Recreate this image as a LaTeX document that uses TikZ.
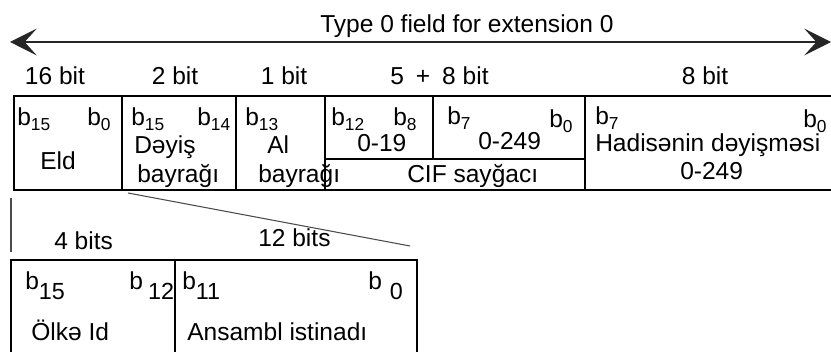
\documentclass[tikz,border=0pt]{standalone}
\usepackage{fontspec}
\setmainfont{Liberation Sans}
\usetikzlibrary{arrows.meta}
\newcommand{\bsmall}[1]{b\raisebox{-0.2em}{\fontsize{13}{13}\selectfont #1}}
\newcommand{\bbig}[2]{b\hspace{#1}\raisebox{-0.38em}{\fontsize{17.5}{17.5}\selectfont #2}}
\tikzset{
  txt/.style={inner sep=0pt, anchor=base west, font=\fontsize{18.4}{22}\selectfont},
  ctxt/.style={inner sep=0pt, anchor=base, font=\fontsize{18.4}{22}\selectfont},
  frame/.style={line width=1.5pt, black},
  thin/.style={line width=0.8pt, black!70},
}
\begin{document}
\begin{tikzpicture}[x=0.75pt, y=-0.75pt]
\useasboundingbox (0,0) rectangle (831,352);
% top arrow
\coordinate (aL) at (10,42);
\coordinate (aR) at (831,42);
\draw[line width=1.5pt, black!85, {Stealth[length=20pt,width=20pt,inset=9pt]}-{Stealth[length=20pt,width=20pt,inset=9pt]}] (aL) -- (aR);
\node[txt] (title) at (320,33) {Type 0 field for extension 0};
% bit labels
\node[ctxt] (w1) at (55,85) {16 bit};
\node[ctxt] (w2) at (175,85) {2 bit};
\node[ctxt] (w3) at (284,85) {1 bit};
\node[txt] (w4) at (390,85) {5\hspace{9pt}+\hspace{9pt}8 bit};
\node[ctxt] (w5) at (705,85) {8 bit};
% top table
\draw[frame] (831,96) -- (14,96) -- (14,190) -- (831,190);
\draw[frame] (122,96) -- (122,190);
\draw[frame] (236,96) -- (236,190);
\draw[frame] (325,96) -- (325,190);
\draw[frame] (433,96) -- (433,159);
\draw[frame] (585,96) -- (585,190);
\draw[frame] (325,159) -- (585,159);
% cell texts
\node[txt] (c1a) at (17,126) {\bsmall{15}};
\node[txt] (c1b) at (87,126) {\bsmall{0}};
\node[txt] (c1c) at (40,170) {Eld};
\node[txt] (c2a) at (131,126) {\bsmall{15}};
\node[txt] (c2b) at (197,126) {\bsmall{14}};
\node[txt] (c2c) at (134,154) {Dəyiş};
\node[txt] (c2d) at (137,183) {bayrağı};
\node[txt] (c3a) at (245,126) {\bsmall{13}};
\node[txt] (c3c) at (267,154) {Al};
\node[txt] (c3d) at (258,183) {bayrağı};
\node[txt] (c4a) at (331,126) {\bsmall{12}};
\node[txt] (c4b) at (393,126) {\bsmall{8}};
\node[txt] (c4c) at (357,152) {0-19};
\node[txt] (c5a) at (447,125) {\bsmall{7}};
\node[txt] (c5b) at (549,128) {\bsmall{0}};
\node[txt] (c5c) at (478,150) {0-249};
\node[txt] (cif) at (407,183) {CIF sayğacı};
\node[txt] (c6a) at (595,125) {\bsmall{7}};
\node[txt] (c6b) at (803,128) {\bsmall{0}};
\node[txt] (c6c) at (595,152) {Hadisənin dəyişməsi};
\node[txt] (c6d) at (680,180) {0-249};
% expansion lines
\coordinate (vT) at (11,198);
\coordinate (vB) at (11,252);
\draw[thin] (vT) -- (vB);
\coordinate (dA) at (128,193);
\coordinate (dB) at (410,246);
\draw[thin] (dA) -- (dB);
% bottom labels
\node[txt] (u1) at (54,250) {4 bits};
\node[txt] (u2) at (258,247) {12 bits};
% bottom table
\draw[frame] (11,352) -- (11,260) -- (417,260) -- (417,352);
\draw[frame] (175,260) -- (175,352);
\node[txt] (d1a) at (25,290) {\bbig{0pt}{15}};
\node[txt] (d1b) at (129,290) {\bbig{4pt}{12}};
\node[txt] (d2a) at (182,290) {\bbig{0pt}{11}};
\node[txt] (d2b) at (368,290) {\bbig{6pt}{0}};
\node[txt] (d1c) at (31,340) {Ölkə Id};
\node[txt] (d2c) at (187,340) {Ansambl istinadı};
\end{tikzpicture}
\end{document}
